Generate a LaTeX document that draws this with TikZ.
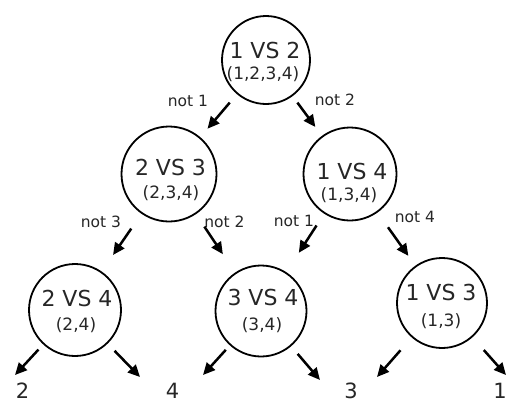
\documentclass[tikz,border=0pt]{standalone}
\usepackage{fontspec}
\setmainfont{DejaVu Sans}
\usetikzlibrary{arrows.meta}
\begin{document}
\begin{tikzpicture}[x=1pt,y=-1pt,
  circ/.style={draw, circle, line width=1.8pt, inner sep=0pt},
  mtxt/.style={font=\fontsize{22}{25}\selectfont, inner sep=0pt, text=black!85},
  stxt/.style={font=\fontsize{17}{20}\selectfont, inner sep=0pt, text=black!85},
  lbl/.style={font=\fontsize{15.5}{18}\selectfont, inner sep=0pt, text=black!85},
  leaf/.style={font=\fontsize{21}{24}\selectfont, inner sep=0pt, text=black!85},
  arr/.style={line width=2.5pt, -{Triangle[length=12pt,width=11pt]}},
]
\useasboundingbox (0,0) rectangle (508,405);

% circles
\node[circ, minimum size=88pt] (r)  at (266,60)  {};
\node[circ, minimum size=95pt] (a)  at (169,174) {};
\node[circ, minimum size=93pt] (b)  at (350,174) {};
\node[circ, minimum size=92pt] (c)  at (75,310)  {};
\node[circ, minimum size=91pt] (d)  at (261,311) {};
\node[circ, minimum size=90pt] (e)  at (442,303) {};

% texts in circles
\node[mtxt] (rt) at (265,50)  {1 VS 2};
\node[stxt] (rs) at (263,74)  {(1,2,3,4)};
\node[mtxt] (at) at (170.5,167) {2 VS 3};
\node[stxt] (as) at (171,193) {(2,3,4)};
\node[mtxt] (bt) at (352,171.5) {1 VS 4};
\node[stxt] (bs) at (349,195.5) {(1,3,4)};
\node[mtxt] (ct) at (77,298) {2 VS 4};
\node[stxt] (cs) at (76,325) {(2,4)};
\node[mtxt] (dt) at (263,297) {3 VS 4};
\node[stxt] (ds) at (262,325) {(3,4)};
\node[mtxt] (et) at (441,292.5) {1 VS 3};
\node[stxt] (es) at (441,321) {(1,3)};

% edge labels
\node[lbl] (l1) at (188,100.5) {not 1};
\node[lbl] (l2) at (335,99.7)  {not 2};
\node[lbl] (l3) at (101,222)   {not 3};
\node[lbl] (l4) at (224.5,222) {not 2};
\node[lbl] (l5) at (294,220.5) {not 1};
\node[lbl] (l6) at (415,216.7) {not 4};

% leaf labels
\node[leaf] (f2) at (22.5,391) {2};
\node[leaf] (f4) at (172.5,391) {4};
\node[leaf] (f3) at (351,391) {3};
\node[leaf] (f1) at (500,391) {1};

% arrow end points for leaf arrows
\coordinate (c1) at (15,375);
\coordinate (c2) at (140,377);
\coordinate (d1) at (203,375);
\coordinate (d2) at (320,380);
\coordinate (e1) at (377,377);
\coordinate (e2) at (506,375);

% arrows between circles
\draw[arr, shorten <=11pt, shorten >=11pt] (r) -- (a);
\draw[arr, shorten <=8pt,  shorten >=11pt] (r) -- (b);
\draw[arr, shorten <=18pt, shorten >=20pt] (a) -- (c);
\draw[arr, shorten <=15pt, shorten >=22pt] (a) -- (d);
\draw[arr, shorten <=14pt, shorten >=23pt] (b) -- (d);
\draw[arr, shorten <=18pt, shorten >=12pt] (b) -- (e);

% leaf arrows
\draw[arr, shorten <=7pt]  (c) -- (c1);
\draw[arr, shorten <=10pt] (c) -- (c2);
\draw[arr, shorten <=6pt]  (d) -- (d1);
\draw[arr, shorten <=10pt] (d) -- (d2);
\draw[arr, shorten <=17pt] (e) -- (e1);
\draw[arr, shorten <=17pt] (e) -- (e2);
\end{tikzpicture}
\end{document}
